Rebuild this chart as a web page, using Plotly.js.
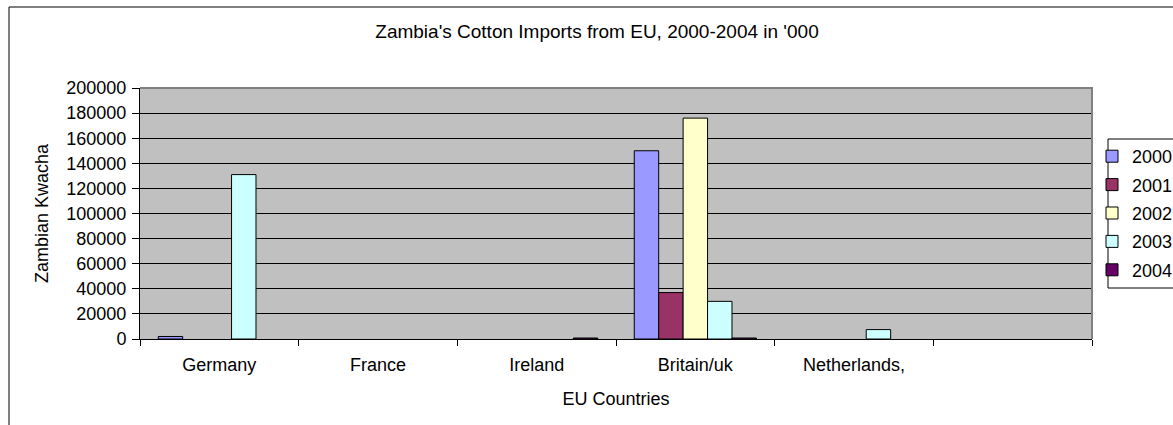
<!DOCTYPE html>
<html>
<head>
<meta charset="utf-8">
<script src="https://cdn.plot.ly/plotly-3.0.1.min.js"></script>
<style>
  html, body { margin: 0; padding: 0; background: #ffffff; }
  #chart { width: 1173px; height: 425px; }
</style>
</head>
<body>
<div id="chart"></div>
<script>
// EU countries on the category axis (last slot is an empty category)
var countries = ['Germany', 'France', 'Ireland', 'Britain/uk', 'Netherlands,', ' '];

// Imports per year, in '000 Zambian Kwacha (null = no entry)
var y2000 = [2000, null, null, 150000, null, null];
var y2001 = [null, null, null, 37000, null, null];
var y2002 = [null, null, null, 176000, null, null];
var y2003 = [131000, null, null, 30000, 7500, null];
var y2004 = [null, null, 800, 800, null, null];

var years = ['2000', '2001', '2002', '2003', '2004'];
var seriesValues = [y2000, y2001, y2002, y2003, y2004];
var seriesColors = ['#9999FF', '#993366', '#FFFFCC', '#CCFFFF', '#660066'];

var FONT = 'Liberation Sans, Arial, sans-serif';

// Plot-area geometry in pixels, used to place the frame and legend box
var W = 1173, H = 425;
var PL = 140, PR = 1092, PT = 88, PB = 339;
function px(x) { return (x - PL) / (PR - PL); }
function py(y) { return (PB - y) / (PB - PT); }

var traces = years.map(function (yr, i) {
  return {
    type: 'bar',
    name: yr,
    legendgroup: yr,
    x: countries,
    y: seriesValues[i],
    marker: { color: seriesColors[i], line: { color: '#000000', width: 1 } },
    hoverinfo: 'x+y+name'
  };
});

var layout = {
  width: W,
  height: H,
  margin: { l: PL, r: W - PR, t: PT, b: H - PB, pad: 0, autoexpand: false },
  paper_bgcolor: '#ffffff',
  plot_bgcolor: '#C0C0C0',
  font: { family: FONT, size: 18, color: '#000000' },
  barmode: 'group',
  bargap: 0.23,
  bargroupgap: 0,
  title: {
    text: "Zambia's Cotton Imports from EU, 2000-2004 in '000",
    font: { family: FONT, size: 19, color: '#000000' },
    x: 597 / W, xref: 'container', xanchor: 'center',
    y: 1 - 31 / H, yref: 'container', yanchor: 'middle'
  },
  xaxis: {
    type: 'category',
    categoryorder: 'array',
    categoryarray: countries,
    range: [-0.5, countries.length - 0.5],
    tickson: 'boundaries',
    ticks: 'outside',
    ticklen: 6,
    tickcolor: '#000000',
    ticklabelstandoff: 9,
    showline: true,
    linecolor: '#000000',
    linewidth: 1,
    showgrid: false,
    zeroline: false,
    automargin: false,
    tickfont: { family: FONT, size: 18 },
    title: { text: 'EU Countries', standoff: 18, font: { family: FONT, size: 18 } },
    fixedrange: true
  },
  yaxis: {
    range: [0, 200000],
    dtick: 20000,
    tick0: 0,
    tickformat: 'd',
    ticks: 'outside',
    ticklen: 7,
    tickcolor: '#000000',
    ticklabelstandoff: 2,
    showline: true,
    linecolor: '#000000',
    linewidth: 1,
    showgrid: true,
    gridcolor: '#000000',
    gridwidth: 1,
    zeroline: false,
    automargin: false,
    tickfont: { family: FONT, size: 18 },
    title: { text: 'Zambian Kwacha', standoff: 13, font: { family: FONT, size: 18 } },
    fixedrange: true
  },
  showlegend: true,
  legend: {
    x: px(1092), xanchor: 'left',
    y: py(138), yanchor: 'top',
    bgcolor: 'rgba(0,0,0,0)',
    borderwidth: 0,
    traceorder: 'grouped',
    tracegroupgap: 2,
    font: { family: FONT, size: 18, color: '#000000' }
  },
  shapes: [
    // outer chart frame (continues past the right and bottom edges)
    { type: 'rect', xref: 'paper', yref: 'paper',
      x0: px(9), x1: px(1300), y0: py(500), y1: py(7),
      line: { color: '#000000', width: 1 }, fillcolor: 'rgba(0,0,0,0)', layer: 'below' },
    // grey plot-area border on top and right
    { type: 'path', xref: 'paper', yref: 'paper',
      path: 'M 0,1 L 1,1 L 1,0',
      line: { color: '#808080', width: 2 }, layer: 'above' },
    // legend box
    { type: 'rect', xref: 'paper', yref: 'paper',
      x0: px(1108), x1: px(1300), y0: py(288), y1: py(139),
      line: { color: '#000000', width: 1 }, fillcolor: '#ffffff', layer: 'below' }
  ]
};

Plotly.newPlot('chart', traces, layout, { displayModeBar: false, staticPlot: true });
</script>
</body>
</html>
